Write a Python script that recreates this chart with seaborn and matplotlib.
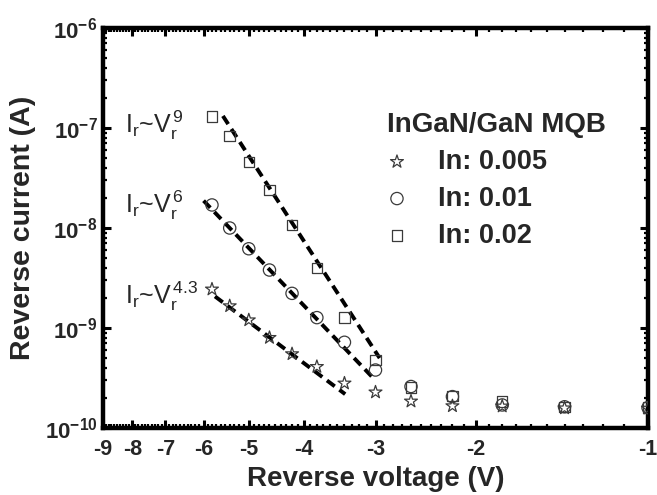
import numpy as np
import pandas as pd
import matplotlib
matplotlib.use("Agg")
import matplotlib.pyplot as plt
import matplotlib.ticker as mticker
import seaborn as sns

# ---------------- data ----------------
voltage = [-5.8, -5.4, -5.0, -4.6, -4.2, -3.8, -3.4, -3.0, -2.6, -2.2, -1.8, -1.4, -1.0]
current_in0005 = [2.44e-9, 1.66e-9, 1.20e-9, 8.0e-10, 5.5e-10, 4.1e-10, 2.8e-10,
                  2.28e-10, 1.85e-10, 1.66e-10, 1.65e-10, 1.58e-10, 1.57e-10]
current_in001 = [1.70e-8, 1.00e-8, 6.2e-9, 3.8e-9, 2.22e-9, 1.27e-9, 7.2e-10,
                 3.8e-10, 2.6e-10, 2.06e-10, 1.70e-10, 1.63e-10, 1.60e-10]
current_in002 = [1.30e-7, 8.3e-8, 4.57e-8, 2.4e-8, 1.07e-8, 4.0e-9, 1.27e-9,
                 4.8e-10, 2.55e-10, 2.09e-10, 1.84e-10, 1.62e-10, 1.60e-10]
series_labels = ["In: 0.005", "In: 0.01", "In: 0.02"]
legend_title = "InGaN/GaN MQB"

# power-law fit lines (end points)
fit_exponents = ["4.3", "6", "9"]
fit_v_start = [-5.73, -6.0, -5.55]
fit_v_end = [-3.39, -3.0, -2.95]
fit_i_start = [2.07e-9, 1.875e-8, 1.32e-7]
fit_i_end = [2.18e-10, 2.99e-10, 5.0e-10]

x_ticks = [-9, -8, -7, -6, -5, -4, -3, -2, -1]
x_ticklabels = ["-9", "-8", "-7", "-6", "-5", "-4", "-3", "-2", "-1"]
y_ticks = [1e-10, 1e-9, 1e-8, 1e-7, 1e-6]
y_ticklabels = [r"$\mathbf{10^{-10}}$", r"$\mathbf{10^{-9}}$", r"$\mathbf{10^{-8}}$",
                r"$\mathbf{10^{-7}}$", r"$\mathbf{10^{-6}}$"]
x_label = "Reverse voltage (V)"
y_label = "Reverse current (A)"

# ---------------- styling ----------------
sns.set_style("ticks")
plt.rcParams["font.family"] = ["Liberation Sans", "DejaVu Sans"]
plt.rcParams["mathtext.fontset"] = "custom"
plt.rcParams["mathtext.rm"] = "Liberation Sans"
plt.rcParams["mathtext.it"] = "Liberation Sans:italic"
plt.rcParams["mathtext.bf"] = "Liberation Sans:bold"

frames = []
for lab, cur in zip(series_labels, [current_in0005, current_in001, current_in002]):
    frames.append(pd.DataFrame({"V": voltage, "I": cur, "series": lab}))
df = pd.concat(frames, ignore_index=True)

fig = plt.figure(figsize=(6.57, 4.95), dpi=100)
ax = fig.add_axes([103 / 657, 1 - 428 / 495, 545 / 657, 400 / 495])


def fwd(v):
    v = np.asarray(v, dtype=float)
    return -np.log10(np.clip(-v, 1e-6, None))


def inv(u):
    return -np.power(10.0, -np.asarray(u, dtype=float))


ax.set_xscale("function", functions=(fwd, inv))
ax.set_yscale("log")

# fit lines
for vs, ve, i_s, i_e in zip(fit_v_start, fit_v_end, fit_i_start, fit_i_end):
    sns.lineplot(x=[vs, ve], y=[i_s, i_e], ax=ax, color="black", lw=2.8,
                 linestyle=(0, (2.5, 1.5)), zorder=2, legend=False)

markers = ["*", "o", "s"]
sizes = [95, 78, 58]
for lab, m, s in zip(series_labels, markers, sizes):
    sub = df[df["series"] == lab]
    sns.scatterplot(data=sub, x="V", y="I", marker=m, s=s, ax=ax,
                    facecolors="none", edgecolor="#3a3a3a", linewidth=0.9,
                    label=lab, zorder=3)

ax.set_xlim(-9, -1)
ax.set_ylim(1e-10, 1e-6)
ax.xaxis.set_major_locator(mticker.FixedLocator(x_ticks))
ax.xaxis.set_major_formatter(mticker.FixedFormatter(x_ticklabels))
ax.xaxis.set_minor_locator(mticker.FixedLocator(np.round(np.arange(-9, -0.95, 0.1), 2)))
ax.xaxis.set_minor_formatter(mticker.NullFormatter())
ax.yaxis.set_major_locator(mticker.FixedLocator(y_ticks))
ax.yaxis.set_major_formatter(mticker.FixedFormatter(y_ticklabels))
ax.yaxis.set_minor_locator(mticker.LogLocator(base=10, subs=np.arange(2, 10)))
ax.yaxis.set_minor_formatter(mticker.NullFormatter())

for sp in ax.spines.values():
    sp.set_linewidth(3.2)
    sp.set_color("black")
ax.tick_params(which="both", direction="in", top=True, right=True, color="black")
ax.tick_params(which="major", length=6, width=2.2)
ax.tick_params(axis="x", which="major", labelsize=15.5, pad=8)
ax.tick_params(axis="y", which="major", labelsize=16, pad=4)
ax.tick_params(which="minor", length=3, width=1.6)
for t in ax.get_xticklabels() + ax.get_yticklabels():
    t.set_fontweight("bold")

ax.set_xlabel(x_label, fontsize=20, fontweight="bold", labelpad=4)
ax.set_ylabel(y_label, fontsize=20.5, fontweight="bold", labelpad=6)

# annotations for the power laws
ann_y = [0.31, 0.5375, 0.7375]
for ex, yy in zip(fit_exponents, ann_y):
    ax.text(0.040, yy, r"$\mathregular{I_r}$~$\mathregular{V_r^{\,%s}}$" % ex,
            transform=ax.transAxes, fontsize=18, va="baseline", ha="left")

leg = ax.legend(title=legend_title, loc="upper left", bbox_to_anchor=(0.522, 0.79),
                frameon=False, alignment="left", handlelength=0.7, handletextpad=1.15,
                labelspacing=0.4, borderpad=0, borderaxespad=0,
                prop={"weight": "bold", "size": 19.5},
                title_fontproperties={"weight": "bold", "size": 20})

fig.savefig("out.png", dpi=100)
